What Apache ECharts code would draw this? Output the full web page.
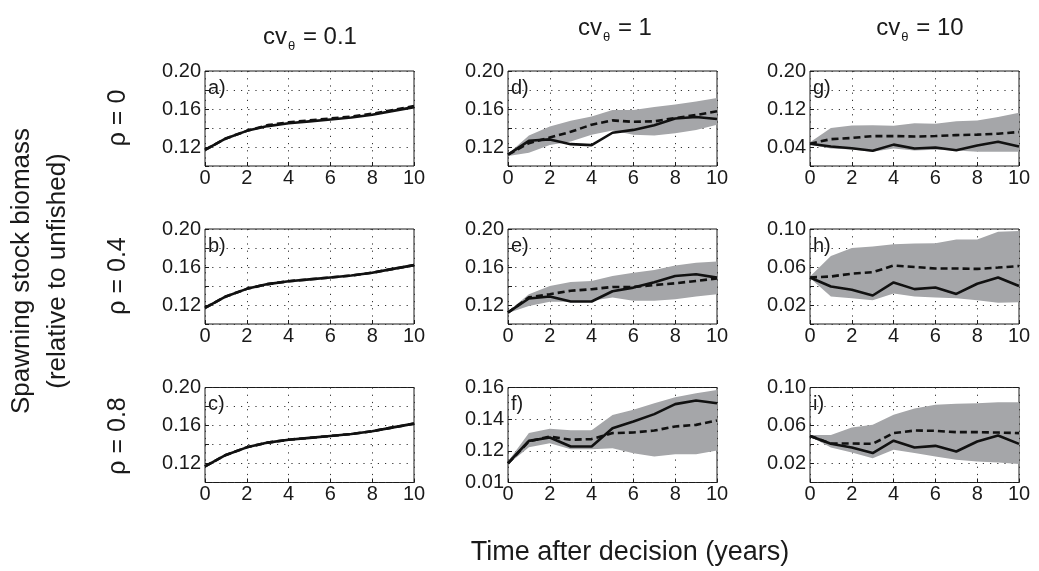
<!DOCTYPE html>
<html>
<head>
<meta charset="utf-8">
<script src="https://cdn.jsdelivr.net/npm/echarts@6/dist/echarts.min.js"></script>
<style>
html,body{margin:0;padding:0;background:#fff;}
#chart{width:1039px;height:571px;}
</style>
</head>
<body>
<div id="chart"></div>
<script>
// ---- data ----
const years = [0,1,2,3,4,5,6,7,8,9,10];
const xTicks = ['0','2','4','6','8','10'];

const colTitles = ['0.1', '1', '10'];
const rowTitles = ['ρ = 0', 'ρ = 0.4', 'ρ = 0.8'];
const panelLetters = ['a)','b)','c)','d)','e)','f)','g)','h)','i)'];

// tick labels per panel (from axis min upward)
const yLabelsAB = ['', '0.12', '', '0.16', '', '0.20'];
const yLabelsF  = ['0.01', '0.12', '0.14', '0.16'];
const yLabelsG  = ['', '0.04', '', '0.12', '', '0.20'];
const yLabelsHI = ['', '0.02', '', '0.06', '', '0.10'];

// column 1 (cv = 0.1)
const aSolid  = [0.117,0.129,0.137,0.142,0.145,0.147,0.149,0.151,0.154,0.158,0.162];
const aDashed = [0.117,0.129,0.137,0.143,0.146,0.148,0.150,0.152,0.155,0.159,0.163];
const bSolid  = [0.117,0.129,0.137,0.142,0.145,0.147,0.149,0.151,0.154,0.158,0.162];
const bDashed = [0.117,0.129,0.137,0.142,0.145,0.147,0.149,0.151,0.154,0.158,0.162];
const cSolid  = [0.117,0.129,0.137,0.142,0.145,0.147,0.149,0.151,0.154,0.158,0.162];
const cDashed = [0.117,0.129,0.137,0.142,0.145,0.147,0.149,0.151,0.154,0.158,0.162];

// column 2 (cv = 1)
const dSolid  = [0.112,0.1265,0.128,0.123,0.122,0.135,0.138,0.143,0.150,0.1515,0.1495];
const dDashed = [0.112,0.124,0.130,0.136,0.1435,0.148,0.1465,0.147,0.1505,0.1537,0.1576];
const dUpper  = [0.1127,0.132,0.1417,0.1477,0.152,0.159,0.159,0.162,0.1647,0.168,0.1717];
const dLower  = [0.1106,0.114,0.122,0.1258,0.133,0.1375,0.133,0.132,0.1346,0.138,0.1435];

const eSolid  = [0.1122,0.1268,0.129,0.1237,0.1237,0.1345,0.1383,0.144,0.1505,0.1523,0.1488];
const eDashed = [0.112,0.128,0.1314,0.135,0.1366,0.139,0.139,0.141,0.1429,0.1453,0.148];
const eUpper  = [0.1132,0.1314,0.140,0.1443,0.1453,0.1505,0.154,0.1568,0.1617,0.1645,0.1659];
const eLower  = [0.1115,0.119,0.1233,0.1233,0.1244,0.1279,0.1244,0.1244,0.126,0.129,0.1314];

const fSolid  = [0.1122,0.1263,0.1284,0.1227,0.1227,0.1343,0.1385,0.1432,0.1495,0.1518,0.1501];
const fDashed = [0.112,0.126,0.129,0.127,0.1274,0.1312,0.1316,0.1328,0.1354,0.1364,0.1392];
const fUpper  = [0.1133,0.1312,0.134,0.133,0.133,0.1427,0.1459,0.150,0.1539,0.1564,0.1585];
const fLower  = [0.1116,0.1223,0.1248,0.121,0.121,0.1217,0.1185,0.1164,0.1179,0.1179,0.1202];

// column 3 (cv = 10)
const gSolid  = [0.047,0.041,0.0375,0.032,0.045,0.037,0.039,0.033,0.043,0.051,0.041];
const gDashed = [0.047,0.0565,0.059,0.063,0.063,0.062,0.063,0.065,0.066,0.068,0.0715];
const gUpper  = [0.050,0.080,0.0855,0.086,0.085,0.090,0.089,0.094,0.096,0.103,0.112];
const gLower  = [0.045,0.037,0.035,0.030,0.037,0.0325,0.034,0.0325,0.030,0.030,0.030];

const hSolid  = [0.049,0.0395,0.036,0.030,0.0438,0.0367,0.0384,0.0317,0.0424,0.049,0.040];
const hDashed = [0.049,0.050,0.053,0.0545,0.0616,0.060,0.0584,0.0584,0.058,0.0594,0.061];
const hUpper  = [0.050,0.0715,0.080,0.0815,0.084,0.0847,0.085,0.089,0.089,0.097,0.098];
const hLower  = [0.0484,0.029,0.027,0.025,0.032,0.029,0.028,0.027,0.025,0.0224,0.0228];

const iSolid  = [0.049,0.0407,0.0368,0.031,0.044,0.0368,0.0386,0.0326,0.0432,0.0495,0.0407];
const iDashed = [0.049,0.041,0.041,0.0407,0.052,0.0547,0.0544,0.053,0.053,0.0526,0.052];
const iUpper  = [0.050,0.050,0.058,0.0607,0.0712,0.078,0.0818,0.083,0.0835,0.0846,0.0846];
const iLower  = [0.0484,0.0368,0.0316,0.0256,0.0344,0.031,0.0274,0.0239,0.0221,0.021,0.0196];

// ---- layout / build ----
const FONT = 'Liberation Sans, Arial, Helvetica, sans-serif';
const TXT = '#1a1a1a';
const BAND = '#a5a6a9';
const lefts = [205, 508, 810];
const tops = [71, 229, 387.5];
const W = 209, H = 95;

const panels = [
  {solid:aSolid, dashed:aDashed, min:0.10, max:0.20, step:0.02, labels:yLabelsAB},
  {solid:bSolid, dashed:bDashed, min:0.10, max:0.20, step:0.02, labels:yLabelsAB},
  {solid:cSolid, dashed:cDashed, min:0.10, max:0.20, step:0.02, labels:yLabelsAB},
  {solid:dSolid, dashed:dDashed, upper:dUpper, lower:dLower, min:0.10, max:0.20, step:0.02, labels:yLabelsAB},
  {solid:eSolid, dashed:eDashed, upper:eUpper, lower:eLower, min:0.10, max:0.20, step:0.02, labels:yLabelsAB},
  {solid:fSolid, dashed:fDashed, upper:fUpper, lower:fLower, min:0.10, max:0.16, step:0.02, labels:yLabelsF},
  {solid:gSolid, dashed:gDashed, upper:gUpper, lower:gLower, min:0, max:0.20, step:0.04, labels:yLabelsG},
  {solid:hSolid, dashed:hDashed, upper:hUpper, lower:hLower, min:0, max:0.10, step:0.02, labels:yLabelsHI},
  {solid:iSolid, dashed:iDashed, upper:iUpper, lower:iLower, min:0, max:0.10, step:0.02, labels:yLabelsHI}
];

const pairs = arr => arr.map((v, k) => [years[k], v]);
const dotted = {color:'#333', width:1, type:[1.2, 6]};

const grid = [], xAxis = [], yAxis = [], series = [], graphic = [];
panels.forEach((p, idx) => {
  const col = Math.floor(idx / 3), row = idx % 3;
  grid.push({left: lefts[col], top: tops[row], width: W, height: H,
    show: true, borderColor: '#1a1a1a', borderWidth: 1, containLabel: false});
  xAxis.push({type:'value', gridIndex: idx, min:0, max:10, interval:2,
    axisLine:{show:false},
    axisTick:{show:true, inside:true, length:4, lineStyle:{color:'#1a1a1a'}},
    splitLine:{show:true, lineStyle:dotted},
    axisLabel:{show:true, margin:2, fontFamily:FONT, fontSize:20, color:TXT,
      formatter:(v, k) => xTicks[k]}});
  yAxis.push({type:'value', gridIndex: idx, min:p.min, max:p.max, interval:p.step,
    axisLine:{show:false},
    axisTick:{show:true, inside:true, length:4, lineStyle:{color:'#1a1a1a'}},
    splitLine:{show:true, lineStyle:dotted},
    axisLabel:{show:true, margin:4, fontFamily:FONT, fontSize:20, color:TXT,
      formatter:(v, k) => p.labels[k] || ''}});
  if (p.upper) {
    const up = p.upper, lo = p.lower;
    series.push({type:'custom', xAxisIndex:idx, yAxisIndex:idx, silent:true, z:1, clip:true,
      data:[[years[0], lo[0]]],
      renderItem:(params, api) => {
        const pts = up.map((u, k) => api.coord([years[k], u]))
          .concat(lo.map((l, k) => api.coord([years[k], l])).reverse());
        return {type:'polygon', shape:{points:pts}, style:{fill:BAND, stroke:null}};
      }});
  }
  series.push({type:'line', xAxisIndex:idx, yAxisIndex:idx, data: pairs(p.dashed),
    symbol:'none', lineStyle:{color:'#111', width:2.6, type:[7,4]}, silent:true, z:3});
  series.push({type:'line', xAxisIndex:idx, yAxisIndex:idx, data: pairs(p.solid),
    symbol:'none', lineStyle:{color:'#111', width:2.6}, silent:true, z:4});
  graphic.push({type:'text', left: lefts[col] + 3, top: tops[row] + 7, z: 10,
    style:{text: panelLetters[idx], fontFamily:FONT, fontSize:20, fill:TXT}});
});

// column titles
const titleX = [310, 615, 920];
const titleY = [25, 16, 16];
colTitles.forEach((t, c) => {
  graphic.push({type:'text', x: titleX[c], y: titleY[c], z: 10,
    style:{text: '{a|cv}{s|θ}{a| = ' + t + '}', textAlign:'center', textVerticalAlign:'top',
      rich:{
        a:{fontFamily:FONT, fontSize:24, fill:TXT, verticalAlign:'top', lineHeight:26},
        s:{fontFamily:FONT, fontSize:13, fill:TXT, verticalAlign:'top', padding:[15,1,0,1], lineHeight:13}
      }}});
});
// row titles
const rowY = [118, 276, 436];
rowTitles.forEach((t, r) => {
  graphic.push({type:'text', x: 118, y: rowY[r], rotation: Math.PI/2, z: 10,
    style:{text: t, fontFamily:FONT, fontSize:25, fill:TXT, textAlign:'center', textVerticalAlign:'middle'}});
});
// y axis title
graphic.push({type:'text', x: 40, y: 271, rotation: Math.PI/2, z: 10,
  style:{text: 'Spawning stock biomass\n(relative to unfished)', fontFamily:FONT, fontSize:26,
    lineHeight:36, fill:TXT, textAlign:'center', textVerticalAlign:'middle'}});
// x axis title
graphic.push({type:'text', x: 630, y: 553, z: 10,
  style:{text: 'Time after decision (years)', fontFamily:FONT, fontSize:27, fill:TXT,
    textAlign:'center', textVerticalAlign:'middle'}});

const chart = echarts.init(document.getElementById('chart'), null, {renderer:'canvas'});
chart.setOption({
  backgroundColor:'#ffffff',
  animation:false,
  grid, xAxis, yAxis, series, graphic
});
</script>
</body>
</html>
